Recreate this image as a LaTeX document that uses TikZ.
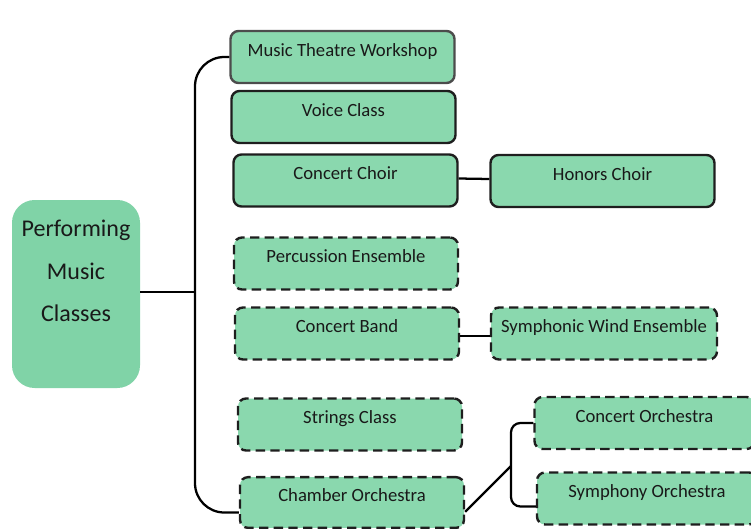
\documentclass[tikz,border=0pt]{standalone}
\usepackage{fontspec}
\setmainfont{Carlito}
\definecolor{classgreen}{HTML}{8AD8AE}
\definecolor{rootgreen}{HTML}{80D3A7}
\definecolor{edgegray}{HTML}{1E1E1E}
\tikzset{
  classbox/.style={draw=edgegray, fill=classgreen, rounded corners=6pt, line width=1.8pt,
    minimum width=168pt, minimum height=39pt, inner sep=0pt,
    text height=9pt, text depth=10.5pt, font=\fontsize{14}{16}\selectfont, text=black!90},
  optbox/.style={classbox, dashed, dash pattern=on 7pt off 4pt},
  link/.style={draw=black, line width=1.7pt}
}
\begin{document}
\begin{tikzpicture}[x=0.75pt, y=-0.75pt]
  \useasboundingbox (0,0) rectangle (751,529);

  % Root node
  \node[fill=rootgreen, rounded corners=17pt, minimum width=96pt, minimum height=141pt,
        inner sep=0pt, align=center, font=\fontsize{18}{32}\selectfont, text=black!90,
        text depth=34.5pt] (perf) at (76,294) {Performing\\Music\\Classes};

  % Required classes
  \node[classbox, draw=black!70] (mtw) at (342.5,57) {Music Theatre Workshop};
  \node[classbox] (voice) at (343.5,117) {Voice Class};
  \node[classbox] (cchoir) at (345.5,180.5) {Concert Choir};
  \node[classbox] (honors) at (602.5,181) {Honors Choir};

  % Instrumental classes
  \node[optbox] (perc) at (346,263.5) {Percussion Ensemble};
  \node[optbox] (cband) at (347,333.5) {Concert Band};
  \node[optbox, minimum width=169.5pt] (swe) at (604,333.5) {Symphonic Wind Ensemble};
  \node[optbox] (strings) at (350,424.5) {Strings Class};
  \node[optbox, minimum height=38pt] (chamber) at (352,502.5) {Chamber Orchestra};
  \node[optbox, minimum width=165pt] (corch) at (644.5,423) {Concert Orchestra};
  \node[optbox, minimum width=165pt] (sorch) at (647,498.5) {Symphony Orchestra};

  % Connectors
  \coordinate (trunk) at (195,292);
  \coordinate (fork) at (511,466);
  \draw[link] (perf.east |- trunk) -- (trunk);
  \draw[link, rounded corners=22pt] (mtw.west) -| (trunk) |- ([yshift=-7.5pt]chamber.west);
  \draw[link] ([yshift=1.5pt]cchoir.east) -- ([yshift=1.5pt]honors.west);
  \draw[link] ([yshift=-2pt]cband.east) -- ([yshift=-2pt]swe.west);
  \draw[link] ([yshift=-7pt]chamber.east) -- (fork);
  \draw[link, rounded corners=7pt] (corch.west) -| (fork) |- ([yshift=-6pt]sorch.west);
\end{tikzpicture}
\end{document}
